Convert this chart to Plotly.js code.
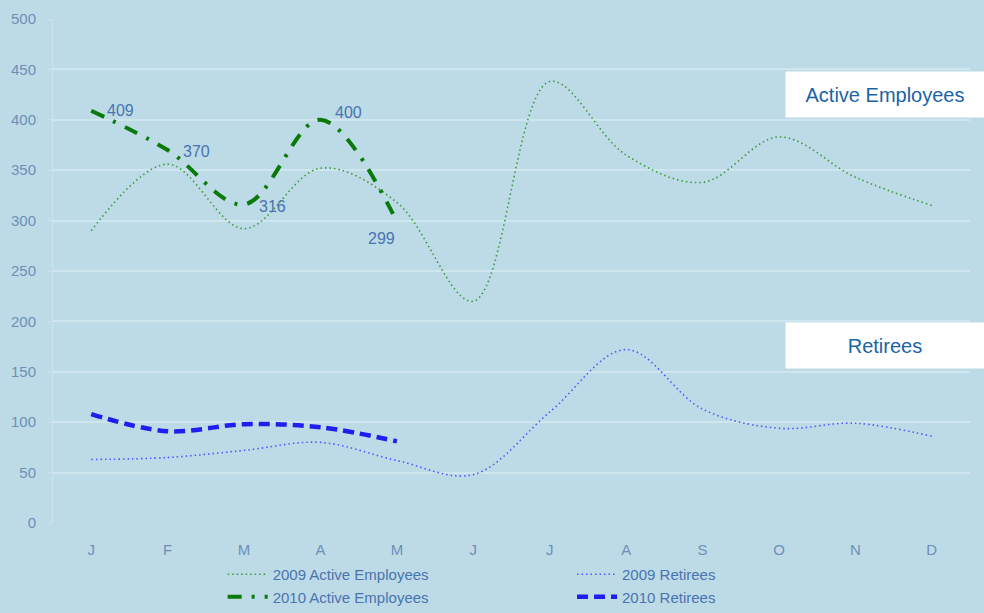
<!DOCTYPE html>
<html>
<head>
<meta charset="utf-8">
<script src="https://cdn.plot.ly/plotly-3.0.1.min.js"></script>
<style>
html,body{margin:0;padding:0;background:#bcdbe6;}
#chart{width:984px;height:613px;}
</style>
</head>
<body>
<div id="chart"></div>
<script>
const months = ["J","F","M","A","M","J","J","A","S","O","N","D"];
const monthIdx = [0,1,2,3,4,5,6,7,8,9,10,11];
const tickVals = [0,50,100,150,200,250,300,350,400,450,500];

const active2009 = [290, 356, 292, 352, 318, 220, 438, 365, 338, 383, 343, 315];
const active2010 = [409, 370, 316, 400, 299];
const retirees2009 = [63, 65, 72, 80, 62, 48, 110, 172, 113, 94, 99, 86];
const retirees2010 = [108, 91, 98, 95, 81];

const seriesNames = ["2009 Active Employees", "2009 Retirees", "2010 Active Employees", "2010 Retirees"];
const groupLabels = ["Active Employees", "Retirees"];
const groupLabelLevels = [425, 176];

// label offsets (pixels) for the 2010 Active Employees value labels
const labelShiftX = [29, 29, 28, 28, -15];
const labelShiftY = [0, -1, -2, 7, -17];

const fontFam = "Liberation Sans, Arial, sans-serif";

const traces = [
  {
    x: monthIdx, y: active2009, name: seriesNames[0], type: "scatter", mode: "lines",
    legend: "legend",
    line: {color: "#3d9a3d", width: 1.6, dash: "1.5px,3px", shape: "spline", smoothing: 1}
  },
  {
    x: monthIdx.slice(0, active2010.length), y: active2010, name: seriesNames[2], type: "scatter",
    mode: "lines", legend: "legend",
    line: {color: "#0a7a0a", width: 4, dash: "14px,10px,3px,10px", shape: "spline", smoothing: 1}
  },
  {
    x: monthIdx, y: retirees2009, name: seriesNames[1], type: "scatter", mode: "lines",
    legend: "legend2",
    line: {color: "#5555ff", width: 1.6, dash: "1.5px,3px", shape: "spline", smoothing: 1}
  },
  {
    x: monthIdx.slice(0, retirees2010.length), y: retirees2010, name: seriesNames[3], type: "scatter",
    mode: "lines", legend: "legend2",
    line: {color: "#1e1eee", width: 4.5, dash: "11px,6px", shape: "spline", smoothing: 1}
  }
];

const annotations = active2010.map((v, i) => ({
  x: monthIdx[i], y: v, xref: "x", yref: "y", text: String(v), showarrow: false,
  xshift: labelShiftX[i], yshift: labelShiftY[i],
  font: {size: 16, color: "#4a74b0", family: fontFam}
}));

groupLabels.forEach((g, i) => {
  annotations.push({
    xref: "paper", yref: "y", x: 1.016, y: groupLabelLevels[i], xanchor: "right", yanchor: "middle",
    text: g, showarrow: false,
    bgcolor: "#ffffff", width: 196, height: 43, borderpad: 1,
    font: {size: 20, color: "#1a64a6", family: fontFam}
  });
});

const legendCommon = {
  orientation: "v", xanchor: "left", yanchor: "bottom", y: 0, yref: "container",
  font: {size: 15, color: "#4a74b0", family: fontFam},
  bgcolor: "rgba(0,0,0,0)", itemwidth: 40, tracegroupgap: 0, traceorder: "normal"
};

const layout = {
  width: 984, height: 613,
  paper_bgcolor: "#bcdbe6",
  plot_bgcolor: "#bcdbe6",
  margin: {l: 53, r: 14, t: 19, b: 90},
  showlegend: true,
  font: {family: fontFam, color: "#6f8fb8", size: 15},
  xaxis: {
    tickmode: "array", tickvals: monthIdx, ticktext: months,
    range: [-0.5, 11.5],
    showgrid: false, zeroline: false, showline: false,
    ticks: "", ticklen: 0, ticklabelstandoff: 16,
    tickfont: {size: 15, color: "#6f8fb8"}
  },
  yaxis: {
    range: [0, 500], tickmode: "array", tickvals: tickVals,
    showgrid: true, gridcolor: "#cfe6ee", gridwidth: 2,
    zeroline: false, showline: true, linecolor: "#cde3ec", linewidth: 1,
    ticks: "outside", ticklen: 4, tickcolor: "#cde3ec", ticklabelstandoff: 9,
    tickfont: {size: 15, color: "#6f8fb8"}
  },
  legend: Object.assign({}, legendCommon, {x: 0.185}),
  legend2: Object.assign({}, legendCommon, {x: 0.566}),
  annotations: annotations
};

Plotly.newPlot("chart", traces, layout, {displayModeBar: false, staticPlot: true});
</script>
</body>
</html>
